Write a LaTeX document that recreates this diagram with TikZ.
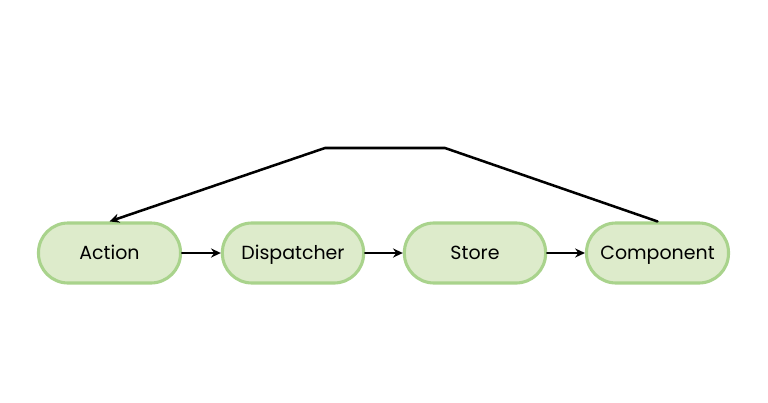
\documentclass[tikz,border=0pt]{standalone}
\usepackage{fontspec}
\setmainfont{Poppins}
\usetikzlibrary{arrows.meta}
\definecolor{pillfill}{HTML}{DDEBCB}
\definecolor{pilledge}{HTML}{A9D38C}
\begin{document}
\begin{tikzpicture}[x=0.025cm,y=-0.025cm,>={Stealth[length=7pt,width=6.5pt]}, font=\fontsize{13.5}{16}\selectfont, line join=round, line cap=round,
	pill/.style={draw=pilledge, fill=pillfill, line width=2.2pt, rounded corners=0.74cm, minimum height=1.5cm, text height=1.9ex, text depth=.15ex, inner sep=0pt},
	link/.style={->, line width=1.8pt}]
	\useasboundingbox (0,0) rectangle (768,402);
	\def\yrow{253} % hàng
	\node[pill, minimum width=3.55cm] (action) at (109.5,\yrow) {Action};
	\node[pill, minimum width=3.53cm] (dispatcher) at (293,\yrow) {Dispatcher};
	\node[pill, minimum width=3.53cm] (store) at (475,\yrow) {Store};
	\node[pill, minimum width=3.55cm] (component) at (657.5,\yrow) {Component};
	\draw[link] (action)--(dispatcher);
	\draw[link] (dispatcher)--(store);
	\draw[link] (store)--(component);
	\coordinate (bendR) at (445,148);
	\coordinate (bendL) at (325,148);
	\draw[link] (component.north)--(bendR)--(bendL)--(action.north);
\end{tikzpicture}
\end{document}
